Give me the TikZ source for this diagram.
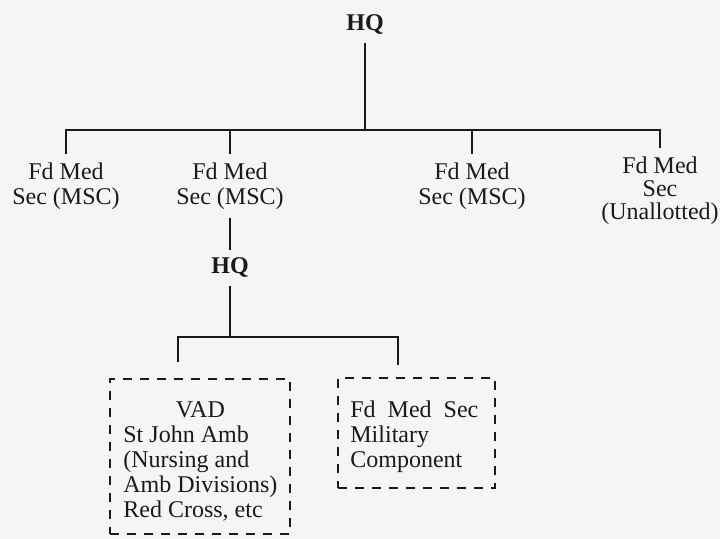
\documentclass[tikz,border=0pt]{standalone}
\usepackage{fontspec}
\setmainfont{Liberation Serif}
\usetikzlibrary{positioning}
\definecolor{ink}{HTML}{1A1A1A}
\definecolor{paper}{HTML}{F5F5F3}
\tikzset{
  unit/.style={align=center,inner sep=4pt,font=\fontsize{12}{12.5}\selectfont,text=ink},
  hqnode/.style={unit,font=\fontsize{12}{12.5}\selectfont\bfseries},
  link/.style={draw=ink,line width=1.4pt},
  dashbox/.style={draw=ink,line width=1.2pt,dash pattern=on 4.5pt off 4pt,inner sep=0pt},
  boxtext/.style={inner sep=0pt,font=\fontsize{12}{12.5}\selectfont,text=ink,anchor=north west},
}

\begin{document}
\begin{tikzpicture}[x=0.5pt,y=-0.5pt]
  \fill[paper] (0,0) rectangle (720,539);
  \useasboundingbox (0,0) rectangle (720,539);
  % top level
  \node[hqnode] (hq) at (365,25) {HQ};
  \node[unit,anchor=north] (sec1) at (66,154) {Fd Med\\Sec (MSC)};
  \node[unit,anchor=north] (sec2) at (230,154) {Fd Med\\Sec (MSC)};
  \node[unit,anchor=north] (sec3) at (472,154) {Fd Med\\Sec (MSC)};
  \node[unit,anchor=north,font=\fontsize{12}{11.5}\selectfont] (sec4) at (660,148) {Fd Med\\Sec\\(Unallotted)};
  \coordinate (top) at (365,130);
  \draw[link] (hq) -- (top);
  \draw[link] (sec1.north) |- (top) -| (sec4.north);
  \draw[link] (sec2.north) -- (sec2.north |- top);
  \draw[link] (sec3.north) -- (sec3.north |- top);
  % second level
  \node[hqnode] (hq2) at (230,268) {HQ};
  \draw[link] (sec2) -- (hq2);
  \node[dashbox,anchor=north west,minimum width=90pt,minimum height=77.5pt] (vadbox) at (109,378) {};
  \node[dashbox,anchor=north west,minimum width=78.5pt,minimum height=55pt] (milbox) at (337,377) {};
  \coordinate (split) at (230,337);
  \coordinate (vadend) at (178,362);
  \coordinate (milend) at (398,365);
  \draw[link] (hq2) -- (split);
  \draw[link] (vadend) |- (split) -| (milend);
  \node[boxtext] (vad) at (123,400) {\begin{tabular}{@{}l@{}}\multicolumn{1}{@{}c@{}}{VAD}\\St John Amb\\(Nursing and\\Amb Divisions)\\Red Cross, etc\end{tabular}};
  \node[boxtext] (mil) at (350,400) {\begin{tabular}{@{}l@{}}Fd\ \ Med\ \ Sec\\Military\\Component\end{tabular}};
\end{tikzpicture}
\end{document}
